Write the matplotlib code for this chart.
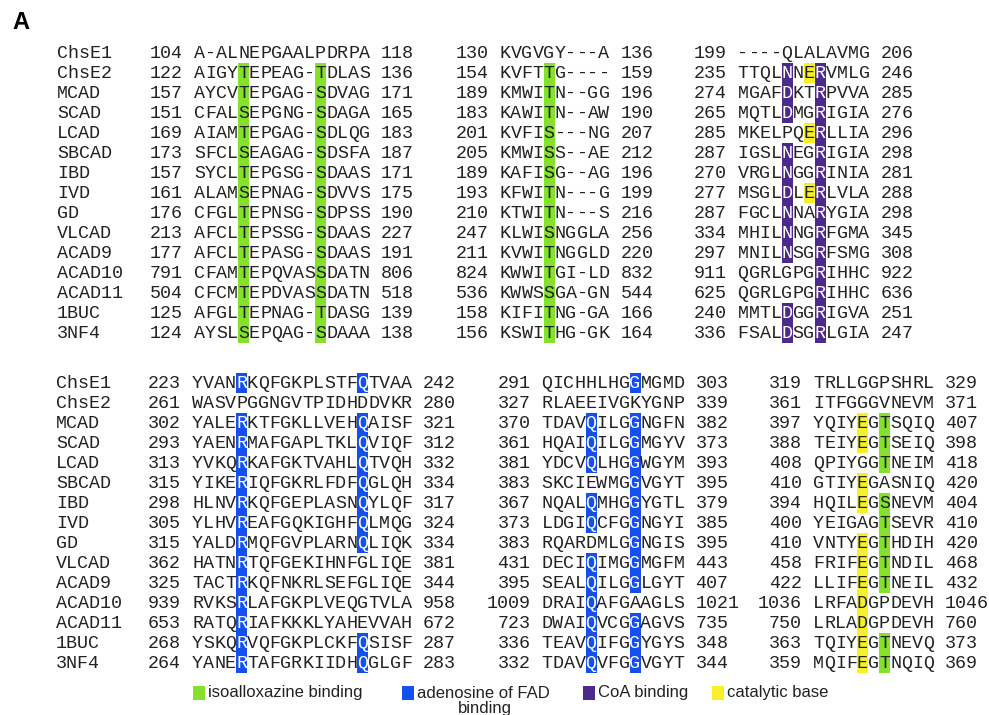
import matplotlib
matplotlib.use("Agg")
import matplotlib.pyplot as plt
from matplotlib.patches import Rectangle

names = ["ChsE1", "ChsE2", "MCAD", "SCAD", "LCAD", "SBCAD", "IBD", "IVD", "GD",
         "VLCAD", "ACAD9", "ACAD10", "ACAD11", "1BUC", "3NF4"]

# top block
t1_start = [104, 122, 157, 151, 169, 173, 157, 161, 176, 213, 177, 791, 504, 125, 124]
t1_seq = ["A-ALNEPGAALPDRPA", "AIGYTEPEAG-TDLAS", "AYCVTEPGAG-SDVAG", "CFALSEPGNG-SDAGA",
          "AIAMTEPGAG-SDLQG", "SFCLSEAGAG-SDSFA", "SYCLTEPGSG-SDAAS", "ALAMSEPNAG-SDVVS",
          "CFGLTEPNSG-SDPSS", "AFCLTEPSSG-SDAAS", "AFCLTEPASG-SDAAS", "CFAMTEPQVASSDATN",
          "CFCMTEPDVASSDATN", "AFGLTEPNAG-TDASG", "AYSLSEPQAG-SDAAA"]
t1_end = [118, 136, 171, 165, 183, 187, 171, 175, 190, 227, 191, 806, 518, 139, 138]

t2_start = [130, 154, 189, 183, 201, 205, 189, 193, 210, 247, 211, 824, 536, 158, 156]
t2_seq = ["KVGVGY---A", "KVFTTG----", "KMWITN--GG", "KAWITN--AW", "KVFIS---NG",
          "KMWISS--AE", "KAFISG--AG", "KFWITN---G", "KTWITN---S", "KLWISNGGLA",
          "KVWITNGGLD", "KWWITGI-LD", "KWWSSGA-GN", "KIFITNG-GA", "KSWITHG-GK"]
t2_end = [136, 159, 196, 190, 207, 212, 196, 199, 216, 256, 220, 832, 544, 166, 164]

t3_start = [199, 235, 274, 265, 285, 287, 270, 277, 287, 334, 297, 911, 625, 240, 336]
t3_seq = ["----QLALAVMG", "TTQLNNERVMLG", "MGAFDKTRPVVA", "MQTLDMGRIGIA", "MKELPQERLLIA",
          "IGSLNEGRIGIA", "VRGLNGGRINIA", "MSGLDLERLVLA", "FGCLNNARYGIA", "MHILNNGRFGMA",
          "MNILNSGRFSMG", "QGRLGPGRIHHC", "QGRLGPGRIHHC", "MMTLDGGRIGVA", "FSALDSGRLGIA"]
t3_end = [206, 246, 285, 276, 296, 298, 281, 288, 298, 345, 308, 922, 636, 251, 247]

# bottom block
b1_start = [223, 261, 302, 293, 313, 315, 298, 305, 315, 362, 325, 939, 653, 268, 264]
b1_seq = ["YVANRKQFGKPLSTFQTVAA", "WASVPGGNGVTPIDHDDVKR", "YALERKTFGKLLVEHQAISF",
          "YAENRMAFGAPLTKLQVIQF", "YVKQRKAFGKTVAHLQTVQH", "YIKERIQFGKRLFDFQGLQH",
          "HLNVRKQFGEPLASNQYLQF", "YLHVREAFGQKIGHFQLMQG", "YALDRMQFGVPLARNQLIQK",
          "HATNRTQFGEKIHNFGLIQE", "TACTRKQFNKRLSEFGLIQE", "RVKSRLAFGKPLVEQGTVLA",
          "RATQRIAFKKKLYAHEVVAH", "YSKQRVQFGKPLCKFQSISF", "YANERTAFGRKIIDHQGLGF"]
b1_end = [242, 280, 321, 312, 332, 334, 317, 324, 334, 381, 344, 958, 672, 287, 283]

b2_start = [291, 327, 370, 361, 381, 383, 367, 373, 383, 431, 395, 1009, 723, 336, 332]
b2_seq = ["QICHHLHGGMGMD", "RLAEEIVGKYGNP", "TDAVQILGGNGFN", "HQAIQILGGMGYV",
          "YDCVQLHGGWGYM", "SKCIEWMGGVGYT", "NQALQMHGGYGTL", "LDGIQCFGGNGYI",
          "RQARDMLGGNGIS", "DECIQIMGGMGFM", "SEALQILGGLGYT", "DRAIQAFGAAGLS",
          "DWAIQVCGGAGVS", "TEAVQIFGGYGYS", "TDAVQVFGGVGYT"]
b2_end = [303, 339, 382, 373, 393, 395, 379, 385, 395, 443, 407, 1021, 735, 348, 344]

b3_start = [319, 361, 397, 388, 408, 410, 394, 400, 410, 458, 422, 1036, 750, 363, 359]
b3_seq = ["TRLLGGPSHRL", "ITFGGGVNEVM", "YQIYEGTSQIQ", "TEIYEGTSEIQ", "QPIYGGTNEIM",
          "GTIYEGASNIQ", "HQILEGSNEVM", "YEIGAGTSEVR", "VNTYEGTHDIH", "FRIFEGTNDIL",
          "LLIFEGTNEIL", "LRFADGPDEVH", "LRLADGPDEVH", "TQIYEGTNEVQ", "MQIFEGTNQIQ"]
b3_end = [329, 371, 407, 398, 418, 420, 404, 410, 420, 468, 432, 1046, 760, 373, 369]

# highlighted residues: (column in segment, kind, rows)
t1_marks = [(4, "iso", list(range(1, 15))), (11, "iso", list(range(1, 15)))]
t2_marks = [(4, "iso", list(range(1, 15)))]
t3_marks = [(4, "coa", [1, 2, 3, 5, 6, 7, 8, 9, 10, 13, 14]),
            (6, "cat", [1, 4, 7]),
            (7, "coa", list(range(1, 15)))]
b1_marks = [(4, "fad", [0] + list(range(2, 15))),
            (15, "fad", [0, 2, 3, 4, 5, 6, 7, 8, 13, 14])]
b2_marks = [(4, "fad", [2, 3, 4, 6, 7, 9, 10, 11, 12, 13, 14]),
            (8, "fad", [0, 2, 3, 4, 5, 6, 7, 8, 9, 10, 12, 13, 14])]
b3_marks = [(4, "cat", [2, 3, 5, 6, 8, 9, 10, 11, 12, 13, 14]),
            (6, "iso", [2, 3, 4, 6, 7, 8, 9, 10, 13, 14])]

legend_labels = ["isoalloxazine binding", "adenosine of FAD", "CoA binding", "catalytic base"]

colors = {"iso": "#84e12c", "fad": "#1450f0", "coa": "#4b2a8c", "cat": "#f6ef2a"}
white_text = {"fad", "coa"}
ink = "#222222"
mono = "Liberation Mono"
fs = 13.2
cw = 11.0     # character cell width in px
rh = 20.0     # row height in px

fig = plt.figure(figsize=(9.89, 7.15), dpi=100)
ax = fig.add_axes([0, 0, 1, 1])
ax.set_xlim(0, 989)
ax.set_ylim(715, 0)
ax.axis("off")


def draw_segment(x0, y0, starts, seqs, ends, marks):
    lookup = {}
    for col, kind, rows in marks:
        for r in rows:
            lookup[(r, col)] = kind
    for r, seq in enumerate(seqs):
        yc = y0 + r * rh
        ax.text(x0 - cw, yc + 5.3, str(starts[r]), ha="right", va="baseline",
                family=mono, fontsize=fs, color=ink)
        for j, ch in enumerate(seq):
            kind = lookup.get((r, j))
            col = ink
            if kind is not None:
                ax.add_patch(Rectangle((x0 + j * cw, yc - 10.5), cw, rh,
                                       facecolor=colors[kind], edgecolor="none", zorder=1))
                if kind in white_text:
                    col = "white"
            ax.text(x0 + j * cw + cw / 2, yc + 5.3, ch, ha="center", va="baseline",
                    family=mono, fontsize=fs, color=col, zorder=2)
        ax.text(x0 + (len(seq) + 1) * cw, yc + 5.3, str(ends[r]), ha="left",
                va="baseline", family=mono, fontsize=fs, color=ink)


def draw_names(x, y0):
    for r, n in enumerate(names):
        ax.text(x, y0 + r * rh + 5.3, n, ha="left", va="baseline",
                family=mono, fontsize=fs, color=ink)


top_y = 53.0
bot_y = 383.0
draw_names(57, top_y)
draw_segment(194.0, top_y, t1_start, t1_seq, t1_end, t1_marks)
draw_segment(499.5, top_y, t2_start, t2_seq, t2_end, t2_marks)
draw_segment(737.5, top_y, t3_start, t3_seq, t3_end, t3_marks)

draw_names(56, bot_y)
draw_segment(192.0, bot_y, b1_start, b1_seq, b1_end, b1_marks)
draw_segment(541.5, bot_y, b2_start, b2_seq, b2_end, b2_marks)
draw_segment(813.0, bot_y, b3_start, b3_seq, b3_end, b3_marks)

# panel label
ax.text(12, 29, "A", ha="left", va="baseline", family="Liberation Sans",
        fontweight="bold", fontsize=17, color="black")

# legend
leg_x = [193, 402, 583, 712]
leg_kinds = ["iso", "fad", "coa", "cat"]
ly = 693
for x, kind, lab in zip(leg_x, leg_kinds, legend_labels):
    ax.add_patch(Rectangle((x, ly - 7), 12, 14, facecolor=colors[kind], edgecolor="none"))
    ax.text(x + 15, ly, lab, ha="left", va="center", family="Liberation Sans",
            fontsize=12, color=ink)
ax.text(485, ly + 15, "binding", ha="center", va="center", family="Liberation Sans",
        fontsize=12, color=ink)

fig.savefig("out.png", dpi=100)
